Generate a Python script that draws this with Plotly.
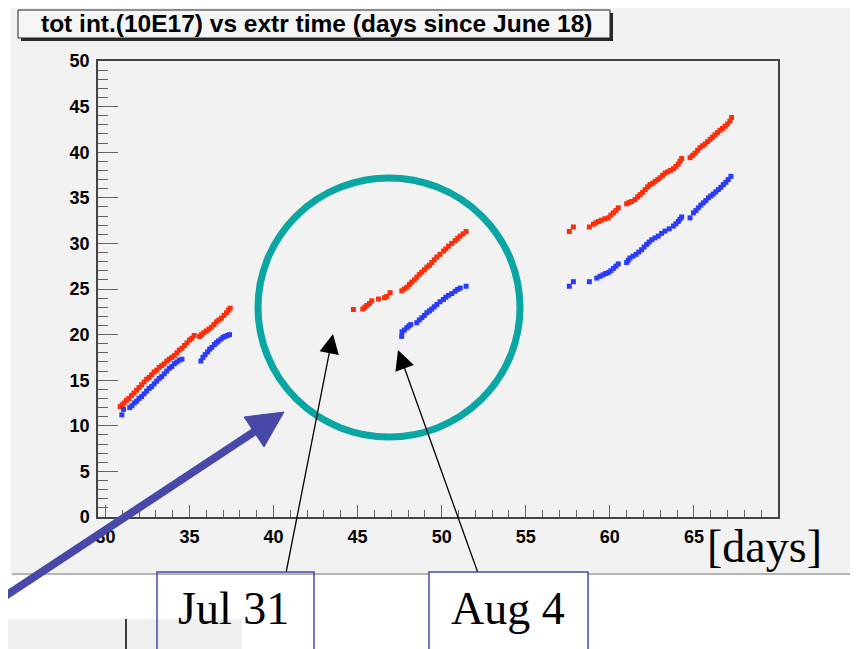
import plotly.graph_objects as go

# ---------------- data ----------------
red_x_a = [30.88, 31.0, 31.12, 31.25, 31.4, 31.55, 31.7, 31.85, 32.0, 32.15, 32.3, 32.45, 32.6, 32.75,
           32.9, 33.05, 33.2, 33.35, 33.5, 33.65, 33.8, 33.95, 34.1, 34.25, 34.4, 34.55, 34.7, 34.85,
           35.0, 35.15, 35.28]
red_y_a = [12.1, 12.3, 12.5, 12.8, 13.0, 13.3, 13.6, 13.9, 14.2, 14.5, 14.8, 15.1, 15.3, 15.6,
           15.9, 16.1, 16.4, 16.6, 16.8, 17.1, 17.3, 17.5, 17.7, 18.0, 18.3, 18.5, 18.8, 19.1,
           19.4, 19.6, 19.9]
red_x_b = [35.6, 35.72, 35.85, 36.0, 36.15, 36.3, 36.45, 36.6, 36.75, 36.9, 37.05, 37.2, 37.32, 37.42]
red_y_b = [19.8, 20.0, 20.2, 20.4, 20.6, 20.8, 21.1, 21.4, 21.6, 21.8, 22.1, 22.4, 22.7, 22.9]
red_x_c = [44.75, 45.31, 45.43, 45.55, 45.7, 45.84, 46.24, 46.6, 46.74, 46.93, 47.63, 47.78, 47.93,
           48.08, 48.22, 48.37, 48.52, 48.67, 48.82, 48.97, 49.12, 49.27, 49.41, 49.56, 49.71, 49.9,
           50.11, 50.25, 50.4, 50.6, 50.8, 50.95, 51.1, 51.28, 51.45]
red_y_c = [22.75, 22.8, 23.0, 23.2, 23.4, 23.7, 23.9, 24.05, 24.2, 24.6, 24.8, 25.0, 25.2,
           25.5, 25.75, 26.0, 26.3, 26.6, 26.85, 27.1, 27.4, 27.6, 27.9, 28.2, 28.5, 28.8,
           29.15, 29.4, 29.7, 30.0, 30.3, 30.55, 30.8, 31.05, 31.3]
red_x_d = [57.59, 57.83, 58.78, 59.02, 59.17, 59.32, 59.5, 59.7, 59.91, 60.06, 60.21, 60.36, 60.5,
           61.0, 61.15, 61.3, 61.5, 61.65, 61.8, 61.95, 62.1, 62.25, 62.39, 62.55, 62.69, 62.85,
           62.99, 63.14, 63.28, 63.45, 63.6, 63.78, 63.93, 64.07, 64.17, 64.27, 64.77, 64.92,
           65.07, 65.22, 65.36, 65.51, 65.66, 65.81, 65.96, 66.1, 66.25, 66.4, 66.55, 66.7,
           66.85, 67.0, 67.14, 67.24]
red_y_d = [31.3, 31.8, 31.8, 32.1, 32.25, 32.4, 32.55, 32.7, 32.8, 33.1, 33.35, 33.6, 33.9,
           34.35, 34.5, 34.6, 34.8, 35.1, 35.35, 35.6, 35.9, 36.2, 36.45, 36.6, 36.8, 37.0,
           37.2, 37.45, 37.7, 37.85, 38.0, 38.2, 38.45, 38.7, 39.0, 39.3, 39.4, 39.65,
           39.9, 40.2, 40.5, 40.7, 40.9, 41.15, 41.4, 41.65, 41.9, 42.15, 42.4, 42.6,
           42.85, 43.1, 43.4, 43.8]

blue_x_a = [30.98, 31.08, 31.45, 31.58, 31.72, 31.86, 32.0, 32.15, 32.3, 32.45, 32.6, 32.75, 32.9,
            33.05, 33.2, 33.35, 33.5, 33.65, 33.8, 33.95, 34.1, 34.25, 34.4, 34.55]
blue_y_a = [11.2, 11.8, 12.0, 12.2, 12.5, 12.7, 13.0, 13.2, 13.5, 13.8, 14.1, 14.3, 14.6,
            14.9, 15.2, 15.4, 15.7, 16.0, 16.3, 16.5, 16.8, 17.0, 17.2, 17.3]
blue_x_b = [35.68, 35.8, 35.93, 36.08, 36.2, 36.33, 36.48, 36.6, 36.72, 36.87, 37.0, 37.12, 37.25, 37.38]
blue_y_b = [17.1, 17.5, 17.8, 18.1, 18.4, 18.6, 18.9, 19.1, 19.3, 19.5, 19.7, 19.8, 19.9, 20.0]
blue_x_c = [47.62, 47.64, 47.78, 47.93, 48.05, 48.16, 48.52, 48.67, 48.82, 48.97, 49.12, 49.27,
            49.41, 49.56, 49.71, 49.9, 50.1, 50.25, 50.4, 50.6, 50.8, 50.95, 51.1, 51.45]
blue_y_c = [19.8, 20.3, 20.5, 20.75, 20.95, 21.1, 21.3, 21.6, 21.85, 22.1, 22.4, 22.6,
            22.8, 23.05, 23.3, 23.6, 23.85, 24.1, 24.3, 24.5, 24.75, 24.95, 25.1, 25.3]
blue_x_d = [57.59, 57.83, 58.78, 59.22, 59.42, 59.6, 59.75, 59.91, 60.06, 60.21, 60.36, 60.5,
            61.0, 61.1, 61.2, 61.38, 61.56, 61.72, 61.89, 62.04, 62.19, 62.34, 62.49, 62.68,
            62.88, 63.08, 63.28, 63.53, 63.78, 63.93, 64.07, 64.17, 64.27, 64.77, 64.97, 65.12,
            65.26, 65.41, 65.56, 65.71, 65.86, 66.0, 66.15, 66.3, 66.45, 66.6, 66.75, 66.9,
            67.04, 67.2]
blue_y_d = [25.3, 25.8, 25.8, 26.2, 26.4, 26.55, 26.7, 26.8, 27.0, 27.25, 27.5, 27.75,
            27.9, 28.15, 28.4, 28.6, 28.8, 29.05, 29.3, 29.6, 29.9, 30.15, 30.4, 30.6,
            30.8, 31.1, 31.35, 31.6, 31.9, 32.15, 32.4, 32.65, 32.9, 32.8, 33.35, 33.6,
            33.9, 34.2, 34.45, 34.7, 35.0, 35.2, 35.4, 35.65, 35.9, 36.15, 36.45, 36.7,
            37.0, 37.35]

x_tick_values = [30, 35, 40, 45, 50, 55, 60, 65]
x_tick_labels = ["30", "35", "40", "45", "50", "55", "60", "65"]

title_text = "tot int.(10E17) vs extr time (days since June 18)"
unit_text = "[days]"
label_1 = "Jul 31"
label_2 = "Aug 4"

# ---------------- layout geometry ----------------
# the page body has an 8px margin, so the figure origin sits at (8, 8) in the window
OFF = 8
W, H = 850, 641
L, R, T, B = 90, 80, 53, 132
PW = W - L - R
PH = H - T - B


def fx(p):
    """window pixel x -> paper x"""
    return (p - OFF - L) / PW


def fy(p):
    """window pixel y -> paper y"""
    return (H - B - (p - OFF)) / PH


def ppath(points):
    return "M " + " L ".join(f"{fx(a):.5f},{fy(b):.5f}" for a, b in points) + " Z"


RED = "#ff2d0a"
BLUE = "#2a3aff"
GREY_BG = "#f2f2f2"
ARROW_BLUE = "#4848a8"

fig = go.Figure()
fig.add_trace(go.Scatter(
    x=red_x_a + red_x_b + red_x_c + red_x_d,
    y=red_y_a + red_y_b + red_y_c + red_y_d,
    mode="markers", marker=dict(symbol="square", size=5, color=RED, line=dict(width=0)),
    showlegend=False, hoverinfo="x+y"))
fig.add_trace(go.Scatter(
    x=blue_x_a + blue_x_b + blue_x_c + blue_x_d,
    y=blue_y_a + blue_y_b + blue_y_c + blue_y_d,
    mode="markers", marker=dict(symbol="square", size=5, color=BLUE, line=dict(width=0)),
    showlegend=False, hoverinfo="x+y"))

shapes = [
    # grey canvas
    dict(type="rect", xref="paper", yref="paper", x0=fx(10), x1=fx(870), y0=fy(573), y1=fy(5),
         fillcolor=GREY_BG, line=dict(width=0), layer="below"),
    dict(type="line", xref="paper", yref="paper", x0=fx(12), x1=fx(870), y0=fy(574), y1=fy(574),
         line=dict(color="#b4b4b4", width=2)),
    # bottom-left fragment
    dict(type="rect", xref="paper", yref="paper", x0=fx(0), x1=fx(242), y0=fy(660), y1=fy(619),
         fillcolor="#efefef", line=dict(width=0), layer="below"),
    dict(type="line", xref="paper", yref="paper", x0=fx(126), x1=fx(126), y0=fy(619), y1=fy(660),
         line=dict(color="#000000", width=1.5)),
    # title box with shadow
    dict(type="rect", xref="paper", yref="paper", x0=fx(21), x1=fx(613), y0=fy(41), y1=fy(13),
         fillcolor="#2a2a2a", line=dict(width=0)),
    dict(type="rect", xref="paper", yref="paper", x0=fx(18), x1=fx(610), y0=fy(38), y1=fy(10),
         fillcolor="#f5f5f5", line=dict(color="#222222", width=1)),
    # teal circle
    dict(type="circle", xref="paper", yref="paper", x0=fx(258), x1=fx(520), y0=fy(437), y1=fy(178),
         line=dict(color="#0aa6a4", width=7)),
    # thick blue arrow: shaft + head
    dict(type="line", xref="paper", yref="paper", x0=fx(-40), y0=fy(626), x1=fx(256), y1=fy(430.5),
         line=dict(color=ARROW_BLUE, width=8)),
    dict(type="path", xref="paper", yref="paper",
         path=ppath([(284, 412), (264, 447), (244, 417)]),
         fillcolor=ARROW_BLUE, line=dict(color=ARROW_BLUE, width=1)),
    # label boxes
    dict(type="rect", xref="paper", yref="paper", x0=fx(157), x1=fx(314), y0=fy(665), y1=fy(572),
         line=dict(color="#4a4aa8", width=1.5)),
    dict(type="rect", xref="paper", yref="paper", x0=fx(429), x1=fx(588), y0=fy(665), y1=fy(572),
         fillcolor="#ffffff", line=dict(color="#4a4aa8", width=1.5)),
]

annotations = [
    dict(xref="paper", yref="paper", x=fx(316), y=fy(24), text="<b>" + title_text + "</b>",
         showarrow=False, font=dict(family="Liberation Sans", size=24.5, color="#000000"),
         xanchor="center", yanchor="middle"),
    dict(xref="paper", yref="paper", x=fx(764), y=fy(546), text=unit_text, showarrow=False,
         font=dict(family="Liberation Serif", size=46, color="#000000"),
         xanchor="center", yanchor="middle"),
    dict(xref="paper", yref="paper", x=fx(233), y=fy(608), text=label_1, showarrow=False,
         font=dict(family="Liberation Serif", size=46, color="#000000"),
         xanchor="center", yanchor="middle"),
    dict(xref="paper", yref="paper", x=fx(508), y=fy(608), text=label_2, showarrow=False,
         font=dict(family="Liberation Serif", size=46, color="#000000"),
         xanchor="center", yanchor="middle"),
    # thin black arrows
    dict(xref="paper", yref="paper", x=fx(333), y=fy(334), ax=-47, ay=239, text="",
         showarrow=True, arrowhead=2, arrowsize=3, arrowwidth=1.3, arrowcolor="#000000"),
    dict(xref="paper", yref="paper", x=fx(398), y=fy(350), ax=80, ay=223, text="",
         showarrow=True, arrowhead=2, arrowsize=3, arrowwidth=1.3, arrowcolor="#000000"),
]

tickfont = dict(family="Liberation Sans", size=18, color="#000000", weight="bold")

fig.update_layout(
    width=W, height=H,
    margin=dict(l=L, r=R, t=T, b=B, autoexpand=False),
    paper_bgcolor="#ffffff",
    plot_bgcolor=GREY_BG,
    shapes=shapes,
    annotations=annotations,
    showlegend=False,
    xaxis=dict(range=[29.56, 70.0], tickmode="array", tickvals=x_tick_values, ticktext=x_tick_labels,
               showgrid=False, zeroline=False,
               showline=True, linecolor="#444444", linewidth=1.5, mirror=True,
               ticks="inside", ticklen=12, tickwidth=1.2, tickcolor="#666666",
               minor=dict(ticks="inside", tick0=30, dtick=1, ticklen=7, tickwidth=1, tickcolor="#666666"),
               tickfont=tickfont, ticklabelstandoff=3),
    yaxis=dict(range=[0, 50], tick0=0, dtick=5, showgrid=False, zeroline=False,
               showline=True, linecolor="#444444", linewidth=1.5, mirror=True,
               ticks="inside", ticklen=20, tickwidth=1.2, tickcolor="#666666",
               minor=dict(ticks="inside", dtick=1, ticklen=10, tickwidth=1, tickcolor="#666666"),
               tickfont=tickfont, ticklabelstandoff=3),
)

fig.write_html("out.html")
